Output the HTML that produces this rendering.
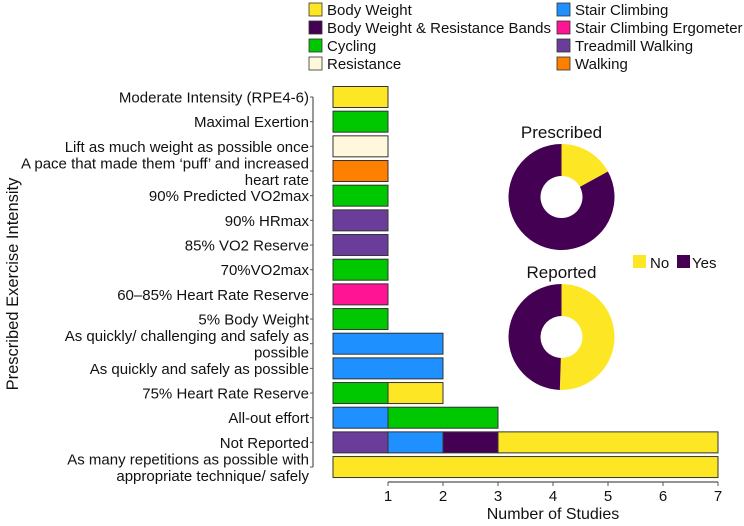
<!DOCTYPE html>
<html><head><meta charset="utf-8"><style>
body{margin:0;background:#fff;}
svg{font-family:"Liberation Sans",Arial,sans-serif;}
</style></head><body>
<svg id="c" width="744" height="521" xmlns="http://www.w3.org/2000/svg"></svg>
<script>
const categories=["Moderate Intensity (RPE4-6)","Maximal Exertion","Lift as much weight as possible once","A pace that made them ‘puff’ and increased|heart rate","90% Predicted VO2max","90% HRmax","85% VO2 Reserve","70%VO2max","60–85% Heart Rate Reserve","5% Body Weight","As quickly/ challenging and safely as|possible","As quickly and safely as possible","75% Heart Rate Reserve","All-out effort","Not Reported","As many repetitions as possible with|appropriate technique/ safely"];
const seriesNames=["Treadmill Walking","Stair Climbing","Body Weight & Resistance Bands","Cycling","Stair Climbing Ergometer","Resistance","Walking","Body Weight"];
const treadmill=[0,0,0,0,0,1,1,0,0,0,0,0,0,0,1,0];
const stair=[0,0,0,0,0,0,0,0,0,0,2,2,0,1,1,0];
const bwrb=[0,0,0,0,0,0,0,0,0,0,0,0,0,0,1,0];
const cycling=[0,1,0,0,1,0,0,1,0,1,0,0,1,2,0,0];
const ergo=[0,0,0,0,0,0,0,0,1,0,0,0,0,0,0,0];
const resistance=[0,0,1,0,0,0,0,0,0,0,0,0,0,0,0,0];
const walking=[0,0,0,1,0,0,0,0,0,0,0,0,0,0,0,0];
const bodyweight=[1,0,0,0,0,0,0,0,0,0,0,0,1,0,4,7];
const xTicks=[1,2,3,4,5,6,7];
const donutNames=["Prescribed","Reported"];
const donutNo=[0.17,0.505];
const donutYes=[0.83,0.495];
const colors={"Body Weight":"#FDE725","Body Weight & Resistance Bands":"#440154","Cycling":"#00C800","Resistance":"#FFF8DC","Stair Climbing":"#1E90FF","Stair Climbing Ergometer":"#FF1493","Treadmill Walking":"#6A3D9A","Walking":"#FF7F00"};
const seriesData=[treadmill,stair,bwrb,cycling,ergo,resistance,walking,bodyweight];
const svg=document.getElementById('c');
const NS="http://www.w3.org/2000/svg";
function mk(t,a,p){const e=document.createElementNS(NS,t);for(const k in a)e.setAttribute(k,a[k]);(p||svg).appendChild(e);return e;}
const x=v=>333+v*55;
const y=i=>86.5+i*24.67;
const bh=21;
const legOrder=["Body Weight","Body Weight & Resistance Bands","Cycling","Resistance","Stair Climbing","Stair Climbing Ergometer","Treadmill Walking","Walking"];
legOrder.forEach((n,i)=>{const col=i<4?0:1,r=i%4;const lx=col?557:309,ly=2+r*18;
const g=mk('g',{});


mk('rect',{x:lx,y:ly+1,width:13,height:13,fill:colors[n],stroke:'#333','stroke-width':0.8},g);
const t=mk('text',{x:lx+18,y:ly+13,'font-size':15,fill:'#111'},g);t.textContent=n;});
categories.forEach((c,i)=>{let acc=0;seriesData.forEach((s,j)=>{const v=s[i];if(!v)return;
const r=mk('rect',{x:x(acc),y:y(i),width:v*55,height:bh,fill:colors[seriesNames[j]],stroke:'#333','stroke-width':1});


acc+=v;});
const lines=c.split('|');const cy=y(i)+bh/2;
lines.forEach((l,k)=>{const t=mk('text',{x:309,y:cy+5.5+(k-(lines.length-1)/2)*16.5,'font-size':15,'text-anchor':'end',fill:'#111'});t.textContent=l;

});
mk('line',{x1:310,x2:313,y1:cy,y2:cy,stroke:'#555','stroke-width':1});});
mk('line',{x1:313,x2:313,y1:y(0)+bh/2,y2:y(15)+bh/2,stroke:'#555','stroke-width':1.2});
mk('line',{x1:x(1),x2:x(7),y1:482,y2:482,stroke:'#555','stroke-width':1.2});
xTicks.forEach(v=>{mk('line',{x1:x(v),x2:x(v),y1:482,y2:486,stroke:'#555'});
const t=mk('text',{x:x(v),y:501,'font-size':15,'text-anchor':'middle',fill:'#111'});t.textContent=v;

});
const xt=mk('text',{x:x(4),y:519,'font-size':16,'text-anchor':'middle',fill:'#111'});xt.textContent="Number of Studies";


const yt=mk('text',{x:0,y:0,'font-size':16.5,'text-anchor':'middle',fill:'#111',transform:'translate(18,284) rotate(-90)'});yt.textContent="Prescribed Exercise Intensity";


function arc(cx,cy,R,r,a0,a1){const p=(a,rr)=>[cx+rr*Math.sin(a),cy-rr*Math.cos(a)];const L=(a1-a0)>Math.PI?1:0;
const [x0,y0]=p(a0,R),[x1,y1]=p(a1,R),[x2,y2]=p(a1,r),[x3,y3]=p(a0,r);
return `M${x0},${y0}A${R},${R} 0 ${L} 1 ${x1},${y1}L${x2},${y2}A${r},${r} 0 ${L} 0 ${x3},${y3}Z`;}
const dcy=[197,337];
donutNames.forEach((n,i)=>{const cx=561.5,cy=dcy[i];const tot=donutNo[i]+donutYes[i];const a=2*Math.PI*donutNo[i]/tot;
const p1=mk('path',{d:arc(cx,cy,53,21,0,a),fill:'#FDE725'});


const p2=mk('path',{d:arc(cx,cy,53,21,a,2*Math.PI-0.0001),fill:'#440154'});


const t=mk('text',{x:cx,y:cy-59,'font-size':17,'text-anchor':'middle',fill:'#111'});t.textContent=n;

});
[["No","#FDE725",633,650],["Yes","#440154",677,692]].forEach(d=>{const g=mk('g',{});


mk('rect',{x:d[2],y:255,width:13,height:13,fill:d[1]},g);
const t=mk('text',{x:d[3],y:268,'font-size':15,fill:'#111'},g);t.textContent=d[0];});
</script>
</body></html>
